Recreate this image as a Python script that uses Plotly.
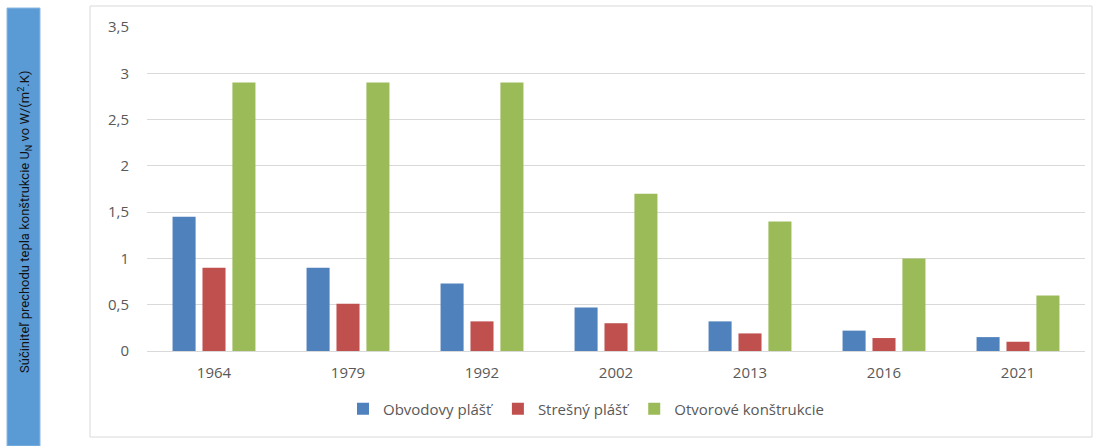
import plotly.graph_objects as go

years = ["1964", "1979", "1992", "2002", "2013", "2016", "2021"]
obvodovy = [1.45, 0.9, 0.73, 0.47, 0.32, 0.22, 0.15]
stresny = [0.9, 0.51, 0.32, 0.3, 0.19, 0.14, 0.1]
otvorove = [2.9, 2.9, 2.9, 1.7, 1.4, 1.0, 0.6]
series_names = ["Obvodovy plášť", "Strešný plášť", "Otvorové konštrukcie"]
colors = ["#4F81BD", "#C0504D", "#9BBB59"]
y_ticks = [0, 0.5, 1, 1.5, 2, 2.5, 3, 3.5]

W, H = 1094, 446
L, R, T, B = 147, 1085, 27, 351  # plot area pixel bounds


def px_x(p):
    return (p - L) / (R - L)


def px_y(p):
    return (B - p) / (B - T)


fig = go.Figure()
for name, vals, c in zip(series_names, [obvodovy, stresny, otvorove], colors):
    fig.add_trace(go.Bar(x=years, y=vals, name=name,
                         marker=dict(color=c, line=dict(width=0))))

fig.update_layout(
    width=W, height=H,
    margin=dict(l=L, r=W - R, t=T, b=H - B),
    paper_bgcolor="white", plot_bgcolor="white",
    separators=", ",
    barmode="group", bargap=0.33, bargroupgap=0.23,
    font=dict(family="Open Sans, Liberation Sans, sans-serif", size=15, color="#595959"),
    showlegend=True,
    legend=dict(orientation="h", x=0.468, xanchor="center", y=px_y(409), yanchor="middle",
                font=dict(size=15, color="#595959"), itemwidth=30, traceorder="normal"),
    xaxis=dict(showgrid=False, showline=True, linecolor="#D9D9D9", linewidth=1,
               ticks="", tickfont=dict(size=15, color="#595959"), ticklabelstandoff=8),
    yaxis=dict(range=[0, 3.5], tickvals=y_ticks, showgrid=True, gridcolor="#D9D9D9",
               gridwidth=1, zeroline=False, showline=False, ticks="",
               tickfont=dict(size=15, color="#595959"), ticklabelstandoff=17),
    shapes=[
        dict(type="rect", xref="paper", yref="paper", layer="below",
             x0=px_x(90), x1=px_x(1092), y0=px_y(437), y1=px_y(6),
             line=dict(color="#D9D9D9", width=1), fillcolor="rgba(0,0,0,0)"),
        dict(type="rect", xref="paper", yref="paper", layer="below",
             x0=px_x(7), x1=px_x(40), y0=px_y(446), y1=px_y(8),
             line=dict(color="#8DB8E2", width=1), fillcolor="#5B9BD5"),
    ],
    annotations=[
        dict(xref="paper", yref="paper", x=px_x(25), y=px_y(222),
             text="Súčiniteľ prechodu tepla konštrukcie U<sub>N</sub> vo W/(m<sup>2</sup>.K)",
             textangle=-90, showarrow=False, xanchor="center", yanchor="middle",
             font=dict(family="Liberation Sans Narrow, Roboto, sans-serif",
                       size=13, color="#111111")),
    ],
)

fig.write_html("out.html")
